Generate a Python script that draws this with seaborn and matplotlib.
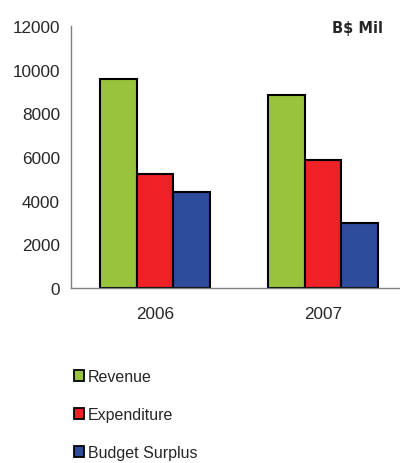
import matplotlib
matplotlib.use("Agg")
import matplotlib.pyplot as plt
import seaborn as sns
import pandas as pd

years = ["2006", "2007"]
series = ["Revenue", "Expenditure", "Budget Surplus"]
revenue = [9570, 8830]
expenditure = [5230, 5850]
surplus = [4380, 2990]
colors = ["#99C33C", "#EE2124", "#2E4C9C"]
y_ticks = [0, 2000, 4000, 6000, 8000, 10000, 12000]

df = pd.DataFrame({
    "Year": years * 3,
    "Series": [s for s in series for _ in years],
    "Value": revenue + expenditure + surplus,
})

sns.set_style("white")
plt.rcParams["font.family"] = ["Liberation Sans", "DejaVu Sans"]

fig = plt.figure(figsize=(4.0, 4.64), dpi=100)
ax = fig.add_axes([71 / 400, 1 - 289 / 464, 336 / 400, 262 / 464])

sns.barplot(data=df, x="Year", y="Value", hue="Series", order=years,
            hue_order=series, palette=colors, width=0.66, saturation=1,
            edgecolor="black", linewidth=1.5, ax=ax, legend=False)

ax.set_xlim(-0.5, 1.5)
ax.set_ylim(0, 12000)
ax.set_yticks(y_ticks)
ax.set_yticklabels([str(v) for v in y_ticks], fontsize=12.3)
ax.set_xticks([0, 1])
ax.set_xticklabels(years, fontsize=12.3)
ax.set_xticks([-0.5, 0.5, 1.5], minor=True)
ax.tick_params(axis="x", which="major", length=0, pad=13)
ax.tick_params(axis="x", which="minor", length=5, color="#808080", direction="out", width=1)
ax.tick_params(axis="y", length=4, color="#808080", direction="out", width=1, pad=4)
ax.set_xlabel("")
ax.set_ylabel("")
for side in ["top", "right"]:
    ax.spines[side].set_visible(False)
for side in ["left", "bottom"]:
    ax.spines[side].set_color("#808080")
    ax.spines[side].set_linewidth(1)

fig.text(383 / 400, 1 - 28 / 464, "B$ Mil", ha="right", va="center",
         fontsize=10.5, fontweight="bold", family="DejaVu Sans")

handles = [plt.Rectangle((0, 0), 1, 1, facecolor=c, edgecolor="black", linewidth=1.3)
           for c in colors]
fig.legend(handles, series, loc="upper left", bbox_to_anchor=(74 / 400, 1 - 370 / 464),
           frameon=False, fontsize=11.5, handlelength=0.65, handleheight=0.65,
           handletextpad=0.2, labelspacing=1.45, borderaxespad=0, borderpad=0)

fig.savefig("out.png", dpi=100)
